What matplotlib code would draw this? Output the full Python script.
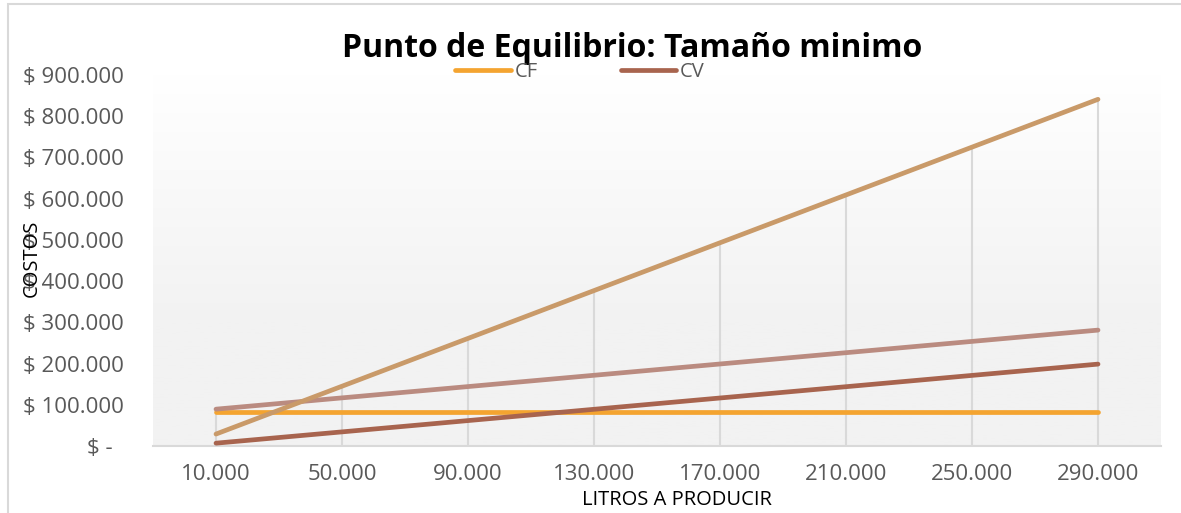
import numpy as np
import matplotlib.pyplot as plt
from matplotlib.patches import Rectangle
from matplotlib.ticker import FuncFormatter

plt.rcParams['font.family'] = ['Open Sans', 'DejaVu Sans']

# Datos
litros = ['10.000', '50.000', '90.000', '130.000', '170.000', '210.000', '250.000', '290.000']
cf = [82500, 82500, 82500, 82500, 82500, 82500, 82500, 82500]
cv = [6850, 34250, 61650, 89050, 116450, 143850, 171250, 198650]
ct = [89350, 116750, 144150, 171550, 198950, 226350, 253750, 281150]
it = [29000, 145000, 261000, 377000, 493000, 609000, 725000, 841000]

fig = plt.figure(figsize=(11.81, 5.13), dpi=100)
ax = fig.add_axes([153 / 1181, 67 / 513, 1008 / 1181, 371 / 513])

x = np.arange(len(litros))

# fondo degradado del area de trazado
grad = np.linspace(1, 0, 256).reshape(-1, 1)
c_top = np.array([1.0, 1.0, 1.0])
c_bot = np.array([0xf2, 0xf2, 0xf2]) / 255
img = c_top + (c_bot - c_top) * np.clip((1 - grad) * 1.5, 0, 1)[..., None]
img = img.reshape(256, 1, 3)
ax.imshow(img, extent=[0, 1, 0, 1], transform=ax.transAxes, aspect='auto', zorder=0)

# lineas de proyeccion (drop lines)
tops = np.max([cf, cv, ct, it], axis=0)
ax.vlines(x, 0, tops, color='#d9d9d9', lw=1.5, zorder=1)

ax.plot(x, cf, color='#f4a430', lw=3.4, solid_capstyle='round', label='CF', zorder=3)
ax.plot(x, cv, color='#a8644e', lw=3.4, solid_capstyle='round', label='CV', zorder=3)
ax.plot(x, ct, color='#ba8b80', lw=3.4, solid_capstyle='round', zorder=3)
ax.plot(x, it, color='#c99a69', lw=3.4, solid_capstyle='round', zorder=3)

ax.set_xlim(-0.5, len(litros) - 0.5)
ax.set_ylim(0, 900000)
ax.set_xticks(x)
ax.set_xticklabels(litros)
ax.set_yticks(np.arange(0, 900001, 100000))


def pesos(v, pos):
    if v == 0:
        return '$ -  '
    return '$ ' + f'{int(v):,}'.replace(',', '.')


ax.yaxis.set_major_formatter(FuncFormatter(pesos))
ax.tick_params(axis='both', length=0, labelsize=16, labelcolor='#595959')
ax.tick_params(axis='y', pad=21)
ax.tick_params(axis='x', pad=13)
for s in ['top', 'right', 'left']:
    ax.spines[s].set_visible(False)
ax.spines['bottom'].set_color('#d9d9d9')
ax.spines['bottom'].set_linewidth(1.5)

fig.text(632 / 1181, (513 - 57) / 513, 'Punto de Equilibrio: Tamaño minimo',
         ha='center', va='baseline', fontsize=23, fontweight='bold', color='black')
fig.text(32 / 1181, 0.497, 'COSTOS', rotation=90, ha='center', va='center',
         fontsize=14.5, color='black')
fig.text(677 / 1181, (513 - 500) / 513, 'LITROS A PRODUCIR', ha='center', va='center',
         fontsize=14.5, color='black')

leg = fig.legend(loc='center', bbox_to_anchor=(580 / 1181, (513 - 72) / 513), ncol=2,
                 frameon=False, fontsize=14.5, handlelength=2.75, handletextpad=0.2,
                 columnspacing=4.1, borderpad=0)
for t in leg.get_texts():
    t.set_color('#595959')

fig.patches.append(Rectangle((8 / 1181, -0.1), 1.2, (513 - 4) / 513 + 0.1,
                             transform=fig.transFigure, fill=False,
                             edgecolor='#d9d9d9', lw=1.5))

fig.savefig('out.png', dpi=100)
